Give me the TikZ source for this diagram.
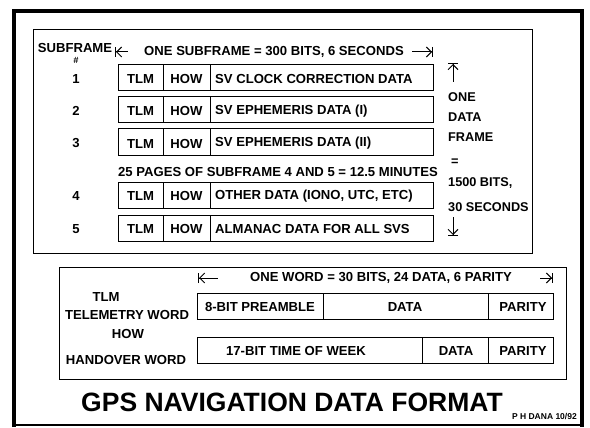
\documentclass[tikz,border=0pt]{standalone}
\usepackage{fontspec}
\setmainfont{Liberation Sans}
\usetikzlibrary{arrows.meta}
\begin{document}
\begin{tikzpicture}[x=1pt,y=-1pt,
  txt/.style={font=\fontsize{13.1}{15}\selectfont\bfseries, inner sep=0pt},
  ltxt/.style={txt, anchor=west},
  rtxt/.style={ltxt, font=\fontsize{12.7}{15}\selectfont\bfseries},
  box/.style={line width=1pt},
  barl/.style={{Bar[width=10pt,line width=1pt]Straight Barb[length=5pt,width=10pt,sep=0pt]}-, line width=1pt},
  barr/.style={-{Straight Barb[length=5pt,width=10pt,sep=0pt]Bar[width=10pt,line width=1pt]}, line width=1pt}]
\useasboundingbox (0,0) rectangle (590,428);
% outer frame
\draw[line width=4pt] (14,427) -- (14,11) -- (582,11) -- (582,427);
\draw[line width=2pt] (14,425) -- (582,425);
% top inner box
\draw[box] (33,30) rectangle (532,253);
% header
\node[txt] (sf) at (75,48) {SUBFRAME};
\node[txt, font=\fontsize{9}{10}\selectfont\bfseries\itshape] (hash) at (76,60) {\#};
\node[txt] (onesf) at (274,52) {ONE SUBFRAME = 300 BITS, 6 SECONDS};
\coordinate (al1) at (115,52); \coordinate (al2) at (128,52);
\coordinate (ar1) at (412,52); \coordinate (ar2) at (433,52);
\draw[barl] (al1) -- (al2);
\draw[barr] (ar1) -- (ar2);
% rows
\foreach \i/\t/\b/\d in {1/65/91/SV CLOCK CORRECTION DATA, 2/97/123/SV EPHEMERIS DATA (I), 3/129/156/SV EPHEMERIS DATA (II), 4/182/208/{OTHER DATA (IONO, UTC, ETC)}, 5/215/241/ALMANAC DATA FOR ALL SVS}{
  \draw[box] (118,\t) rectangle (433,\b);
  \draw[box] (163,\t) -- (163,\b);
  \draw[box] (210,\t) -- (210,\b);
  \node[txt] (n\i) at (76,{(\t+\b)/2+1}) {\i};
  \node[txt] (tlm\i) at (140.5,{(\t+\b)/2+1}) {TLM};
  \node[txt] (how\i) at (186.5,{(\t+\b)/2+1}) {HOW};
  \node[ltxt] (d\i) at (215,{(\t+\b)/2+1}) {\d};
}
\node[ltxt] (pages) at (118,172) {25 PAGES OF SUBFRAME 4 AND 5 = 12.5 MINUTES};
% right side
\coordinate (au1) at (453,63); \coordinate (au2) at (453,82);
\draw[barl] (au1) -- (au2);
\node[rtxt] (r1) at (448,97) {ONE};
\node[rtxt] (r2) at (448,117) {DATA};
\node[rtxt] (r3) at (448,137) {FRAME};
\node[rtxt] (r4) at (451,162) {=};
\node[rtxt] (r5) at (448,183) {1500 BITS,};
\node[rtxt] (r6) at (448,207) {30 SECONDS};
\coordinate (ad1) at (453,217); \coordinate (ad2) at (453,236);
\draw[barr] (ad1) -- (ad2);
% lower box
\draw[box] (59,267) rectangle (566,379);
\coordinate (bl1) at (198,278); \coordinate (bl2) at (218,278);
\coordinate (br1) at (540,278); \coordinate (br2) at (553,278);
\draw[barl] (bl1) -- (bl2);
\draw[barr] (br1) -- (br2);
\node[txt] (oneword) at (381,278) {ONE WORD = 30 BITS, 24 DATA, 6 PARITY};
\node[txt] (tlml) at (106,297) {TLM};
\node[txt] (telw) at (127,315) {TELEMETRY WORD};
\node[txt] (howl) at (128,334) {HOW};
\node[txt] (hanw) at (126,360) {HANDOVER WORD};
\draw[box] (197,293) rectangle (553,319);
\draw[box] (323,293) -- (323,319);
\draw[box] (488,293) -- (488,319);
\node[txt] (pre) at (260,307) {8-BIT PREAMBLE};
\node[txt] (tdata) at (405,307) {DATA};
\node[txt] (tpar) at (523,307) {PARITY};
\draw[box] (197,337) rectangle (553,363);
\draw[box] (422,337) -- (422,363);
\draw[box] (488,337) -- (488,363);
\node[txt] (tow) at (296,351) {17-BIT TIME OF WEEK};
\node[txt] (hdata) at (456,351) {DATA};
\node[txt] (hpar) at (523,351) {PARITY};
% title
\node[font=\fontsize{26.5}{30}\selectfont\bfseries, inner sep=0pt] (title) at (292,402) {GPS NAVIGATION DATA FORMAT};
\node[font=\fontsize{8.5}{10}\selectfont\bfseries, inner sep=0pt, anchor=east] (sig) at (577,417) {P H DANA 10/92};
\end{tikzpicture}
\end{document}
